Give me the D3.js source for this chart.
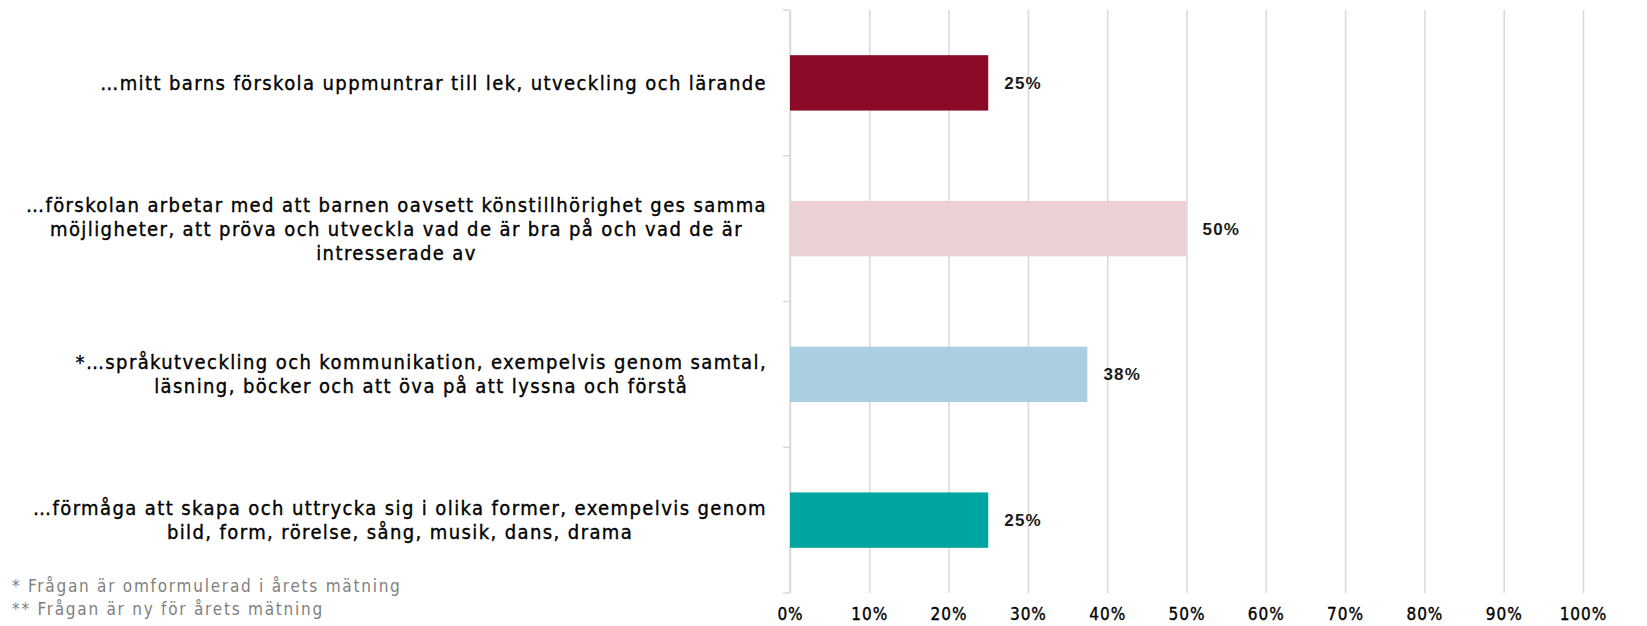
<!DOCTYPE html>
<html>
<head>
<meta charset="utf-8">
<script src="https://cdn.jsdelivr.net/npm/d3@7"></script>
<style>
  body { margin: 0; background: #fff; }
  svg { display: block; }
</style>
</head>
<body>
<svg id="chart"></svg>
<script>
// data
const categories = [
  ["…mitt barns förskola uppmuntrar till lek, utveckling och lärande"],
  ["…förskolan arbetar med att barnen oavsett könstillhörighet ges samma",
   "möjligheter, att pröva och utveckla vad de är bra på och vad de är",
   "intresserade av"],
  ["*…språkutveckling och kommunikation, exempelvis genom samtal,",
   "läsning, böcker och att öva på att lyssna och förstå"],
  ["…förmåga att skapa och uttrycka sig i olika former, exempelvis genom",
   "bild, form, rörelse, sång, musik, dans, drama"]
];
const values = [25, 50, 37.5, 25];
const valueLabels = ["25%", "50%", "38%", "25%"];
const barColors = ["#8b0a27", "#ebd1d3", "#aacfe1", "#00a59f"];
const xTicks = [0, 10, 20, 30, 40, 50, 60, 70, 80, 90, 100];
const footnotes = ["* Frågan är omformulerad i årets mätning", "** Frågan är ny för årets mätning"];

const svgWidth = 1647, svgHeight = 626;
const margin = { top: 10, right: 64, bottom: 33, left: 790 };
const width = svgWidth - margin.left - margin.right;
const height = svgHeight - margin.top - margin.bottom;
const condensed = "'Liberation Sans Narrow', 'DejaVu Sans Condensed', sans-serif";

const svg = d3.select("#chart")
  .attr("width", svgWidth)
  .attr("height", svgHeight);

const g = svg.append("g")
  .attr("transform", `translate(${margin.left},${margin.top})`);

const idx = categories.map((d, i) => i);

const y = d3.scaleBand()
  .domain(idx)
  .range([0, height])
  .paddingInner(0.62)
  .paddingOuter(0.31);

const x = d3.scaleLinear()
  .domain([0, 100])
  .range([0, width]);

// gridlines + x tick labels
const xAxis = g.append("g")
  .attr("transform", `translate(0,${height})`)
  .call(d3.axisBottom(x).tickValues(xTicks).tickSize(-height).tickPadding(15).tickFormat(d => d + "%"));
xAxis.select(".domain").remove();
xAxis.selectAll(".tick line")
  .attr("stroke", "#d9d9d9")
  .attr("stroke-width", 1.5);
xAxis.selectAll(".tick text")
  .attr("fill", "#000")
  .attr("stroke", "#000")
  .attr("stroke-width", 0.35)
  .style("font-family", condensed)
  .style("font-size", "17px")
  .style("letter-spacing", "1px");

// left axis line with boundary ticks
g.append("line")
  .attr("x1", 0).attr("x2", 0)
  .attr("y1", 0).attr("y2", height)
  .attr("stroke", "#d9d9d9")
  .attr("stroke-width", 1.5);
g.selectAll(".ytick")
  .data(d3.range(categories.length + 1))
  .enter()
  .append("line")
  .attr("x1", -7).attr("x2", 0)
  .attr("y1", d => d * y.step())
  .attr("y2", d => d * y.step())
  .attr("stroke", "#d9d9d9")
  .attr("stroke-width", 1.5);

// bars
g.selectAll(".bar")
  .data(idx)
  .enter()
  .append("rect")
  .attr("x", 0)
  .attr("y", i => y(i))
  .attr("width", i => x(values[i]))
  .attr("height", y.bandwidth())
  .attr("fill", i => barColors[i]);

// value labels
g.selectAll(".val")
  .data(idx)
  .enter()
  .append("text")
  .attr("x", i => x(values[i]) + 16)
  .attr("y", i => y(i) + y.bandwidth() / 2)
  .attr("dy", "0.35em")
  .text(i => valueLabels[i])
  .style("font-family", "'Liberation Sans', Arial, sans-serif")
  .style("font-size", "17px")
  .style("font-weight", "bold")
  .style("letter-spacing", "1.2px")
  .style("fill", "#1a1a1a");

// category labels
const lineH = 24;
const cat = g.selectAll(".cat")
  .data(idx)
  .enter()
  .append("text")
  .attr("text-anchor", "middle")
  .attr("stroke", "#000")
  .attr("stroke-width", 0.35)
  .style("font-family", condensed)
  .style("font-size", "20px")
  .style("letter-spacing", "1.4px")
  .style("fill", "#000");

cat.each(function (i) {
  const lines = categories[i];
  const cy = y(i) + y.bandwidth() / 2;
  const t = d3.select(this);
  lines.forEach((ln, k) => {
    t.append("tspan")
      .attr("x", 0)
      .attr("y", cy + (k - (lines.length - 1) / 2) * lineH)
      .attr("dy", "0.35em")
      .text(ln);
  });
});

// shift each centred label block so its right edge sits just left of the axis
cat.each(function () {
  const bb = this.getBBox();
  const shift = -23 - (bb.x + bb.width);
  d3.select(this).attr("transform", `translate(${shift},0)`);
});

// footnotes
svg.selectAll(".note")
  .data(footnotes)
  .enter()
  .append("text")
  .attr("x", 12)
  .attr("y", (d, i) => 586 + i * 23)
  .attr("dy", "0.35em")
  .text(d => d)
  .style("font-family", condensed)
  .style("font-size", "17px")
  .style("letter-spacing", "1.75px")
  .style("fill", "#7f7f7f");
</script>
</body>
</html>
